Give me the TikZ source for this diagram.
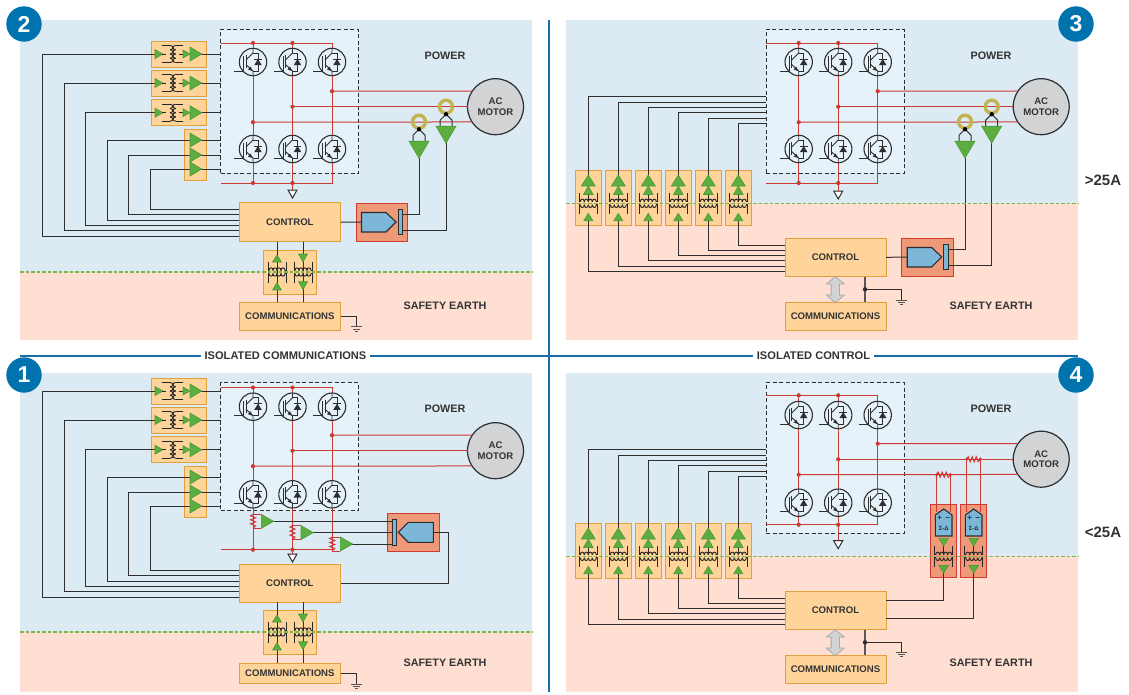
\documentclass[tikz,border=0pt]{standalone}
\usepackage{fontspec}
\setmainfont{Liberation Sans}
\definecolor{bgblue}{HTML}{DBEAF3}
\definecolor{bgpink}{HTML}{FEDFD2}
\definecolor{invfill}{HTML}{E6F2F9}
\definecolor{orfill}{HTML}{FFD49B}
\definecolor{orline}{HTML}{E0A03C}
\definecolor{redw}{HTML}{CB3A33}
\definecolor{redfill}{HTML}{EE9A78}
\definecolor{redln}{HTML}{D13A2F}
\definecolor{adcblue}{HTML}{7DB7D8}
\definecolor{grn}{HTML}{5BAE3F}
\definecolor{grnd}{HTML}{4C9A38}
\definecolor{dashgrn}{HTML}{7AB648}
\definecolor{motg}{HTML}{D2D3D5}
\definecolor{olive}{HTML}{C2B44E}
\definecolor{badge}{HTML}{0072AE}
\definecolor{sep}{HTML}{1A6EA8}
\definecolor{txt}{HTML}{333333}
\definecolor{dk}{HTML}{2E2E2E}
\tikzset{
 lab/.style={font=\bfseries\fontsize{10.8}{11}\selectfont,text=txt},
 boxlab/.style={font=\bfseries\fontsize{9.6}{10.2}\selectfont,text=txt,align=center},
 obox/.style={draw=orline,fill=orfill,line width=1pt},
 rbox/.style={draw=redln,fill=redfill,line width=1pt},
 wire/.style={draw=dk,line width=1pt},
 red/.style={draw=redw,line width=1pt},
 xf/.style={draw=black!85,line width=0.95pt},
 greentri/.style={fill=grn,draw=grnd,line width=0.6pt},
 invbox/.style={draw=dk,fill=invfill,dashed,dash pattern=on 4pt off 2.5pt,line width=1pt},
 motorn/.style={circle,draw=dk,fill=motg,line width=1.2pt,minimum size=56pt,inner sep=0pt,outer sep=0pt,boxlab},
 badgen/.style={circle,fill=badge,minimum size=35.4pt,inner sep=0pt,text=white,font=\bfseries\fontsize{23}{24}\selectfont},
 iso/.style={lab,fill=none,font=\bfseries\fontsize{11.1}{12}\selectfont},
 rdot/.style={fill=redw},
 kdot/.style={fill=dk},
 gdash/.style={dashgrn,dashed,dash pattern=on 3.5pt off 2pt,line width=1.3pt},
 side/.style={font=\bfseries\fontsize{15}{16}\selectfont,text=txt},
 mini/.style={text=dk,inner sep=0pt},
}
% box from corners
\newcommand\bx[7]{\node[#6,outer sep=0pt,inner sep=0pt,minimum width={((#4)-(#2))*1pt},minimum height={((#5)-(#3))*1pt}] (#1) at ({((#2)+(#4))/2},{((#3)+(#5))/2}) {#7};}
% triangles
\newcommand\triU[4]{\path[greentri] ({#1},{#2}) -- ({(#1)-(#4)},{#3}) -- ({(#1)+(#4)},{#3}) -- cycle;}
\newcommand\triR[4]{\path[greentri] ({#3},{#2}) -- ({#1},{(#2)-(#4)}) -- ({#1},{(#2)+(#4)}) -- cycle;}
% coils
\newcommand\coilV[4]{\foreach \i in {0,1,2,3}{\draw[xf] ({#1},{(#2)+\i*(#4)}) .. controls ({(#1)+(#3)*3.6},{(#2)+\i*(#4)}) and ({(#1)+(#3)*3.6},{(#2)+(\i+1)*(#4)}) .. ({#1},{(#2)+(\i+1)*(#4)});}}
\newcommand\coilH[4]{\foreach \i in {0,1,2,3}{\draw[xf] ({(#1)+\i*(#4)},{#2}) .. controls ({(#1)+\i*(#4)},{(#2)+(#3)*3.6}) and ({(#1)+(\i+1)*(#4)},{(#2)+(#3)*3.6}) .. ({(#1)+(\i+1)*(#4)},{#2});}}
% transformer, horizontal split (vertical signal flow)
\newcommand\xfh[2]{%
 \draw[xf] ({(#1)-9},{(#2)-10.5}) -- ({(#1)-9},{(#2)-1.5}) -- ({(#1)-8},{(#2)-1.5});
 \draw[xf] ({(#1)+9},{(#2)-10.5}) -- ({(#1)+9},{(#2)-1.5}) -- ({(#1)+8},{(#2)-1.5});
 \draw[xf] ({(#1)-9},{(#2)+10.5}) -- ({(#1)-9},{(#2)+1.5}) -- ({(#1)-8},{(#2)+1.5});
 \draw[xf] ({(#1)+9},{(#2)+10.5}) -- ({(#1)+9},{(#2)+1.5}) -- ({(#1)+8},{(#2)+1.5});
 \coilH{(#1)-8}{(#2)-1.5}{-1}{4}
 \coilH{(#1)-8}{(#2)+1.5}{1}{4}
}
% IGBT
\newcommand\igbt[2]{%
 \draw[dk,fill=invfill,line width=1.1pt] ({#1},{#2}) circle (13.7pt);
 \draw[dk,line width=0.9pt] ({(#1)-19},{(#2)+9}) -- ({(#1)-9.5},{(#2)+9}) -- ({(#1)-9.5},{(#2)-6});
 \draw[dk,line width=1pt] ({(#1)-7},{(#2)-7}) -- ({(#1)-7},{(#2)+6});
 \draw[dk,line width=0.9pt] ({(#1)-7},{(#2)-2}) -- ({#1},{(#2)-9}) -- ({#1},{(#2)-13.7});
 \draw[dk,line width=0.9pt] ({(#1)-7},{(#2)+2.5}) -- ({#1},{(#2)+9}) -- ({#1},{(#2)+13.7});
 \fill[dk] ({(#1)-0.5},{(#2)+9}) -- ({(#1)-5},{(#2)+7.5}) -- ({(#1)-2.5},{(#2)+4.5}) -- cycle;
 \draw[dk,line width=0.9pt] ({#1},{(#2)-9}) -- ({(#1)+5},{(#2)-9}) -- ({(#1)+5},{(#2)+9}) -- ({#1},{(#2)+9});
 \fill[dk] ({(#1)+5},{(#2)-3}) -- ({(#1)+1.2},{(#2)+3.2}) -- ({(#1)+8.8},{(#2)+3.2}) -- cycle;
 \draw[dk,line width=1pt] ({(#1)+1.2},{(#2)-3}) -- ({(#1)+8.8},{(#2)-3});
}
% inverter: boxtop boxbot railtop row1 row2 ph2 railbot tritop
\newcommand\inverter[8]{%
 \bx{inv\pn}{220.5}{#1}{358.5}{#2}{invbox}{}
 \draw[red] (inv\pn.west |- 0,#3) -- (332,#3) -- (332,#7) -- (inv\pn.west |- 0,#7);
 \draw[red] (253,#3) -- (253,#7);
 \draw[red] (292.5,#3) -- (292.5,{#8});
 \node[motorn] (mot\pn) at (495.5,#6) {AC\\MOTOR};
 \draw[red] (332,{(#6)-15.5}) -- (mot\pn.146.4);
 \draw[red] (292.5,#6) -- (mot\pn.west);
 \draw[red] (253,{(#6)+15.5}) -- (mot\pn.213.6);
 \foreach \q/\r in {253/#3,292.5/#3,253/#7,292.5/#7}{\fill[rdot] (\q,\r) circle (2.1pt);}
 \fill[rdot] (332,{(#6)-15.5}) circle (2.1pt);
 \fill[rdot] (292.5,#6) circle (2.1pt);
 \fill[rdot] (253,{(#6)+15.5}) circle (2.1pt);
 \foreach \q in {253,292.5,332}{\igbt{\q}{#4}\igbt{\q}{#5}}
 \draw[dk,fill=white,line width=1pt] (288,#8) -- (297,#8) -- (292.5,{(#8)+8}) -- cycle;
}
% left-hand gate drivers, panels 1 and 2: gate offset, control wire offset
\newcommand\leftgates[2]{%
 \foreach \n/\y in {a/54,b/83,c/112.7}{%
  \pgfmathsetmacro\yy{\y+#1}
  \bx{g\pn\n}{151}{\yy-13}{206}{\yy+13}{obox}{}
 }
 \bx{g\pn d}{184.5}{129.5+#1}{206}{180+#1}{obox}{}
 \foreach \n/\y/\xx/\cy in {a/54/42.5/236,b/83/64/230.7,c/112.7/85.6/225.3}{%
  \pgfmathsetmacro\yy{\y+#1}\pgfmathsetmacro\cc{\cy+#2}
  \draw[wire] (ctl\pn.west |- 0,\cc) -| (\xx,\yy) -- (155,\yy);
  \draw[wire] (198,\yy) -- (inv\pn.west |- 0,\yy);
  \triR{155}{\yy}{163}{4.5}
  \draw[xf] (162,\yy) -- (166,\yy) (179,\yy) -- (184,\yy);
  \draw[xf] (161.7,\yy-8.5) -- (170,\yy-8.5);
  \draw[xf] (161.7,\yy+8.5) -- (170,\yy+8.5);
  \draw[xf] (183.3,\yy-8.5) -- (175.7,\yy-8.5);
  \draw[xf] (183.3,\yy+8.5) -- (175.7,\yy+8.5);
  \coilV{170}{\yy-8.5}{1}{4.25}
  \coilV{175.7}{\yy-8.5}{-1}{4.25}
  \triR{183}{\yy}{190}{4}
  \triR{190}{\yy}{201.7}{7}
 }
 \foreach \y/\xx/\cy in {140/107/220,155/128.3/214.7,169/150/209.3}{%
  \pgfmathsetmacro\yy{\y+#1}\pgfmathsetmacro\cc{\cy+#2}
  \draw[wire] (ctl\pn.west |- 0,\cc) -| (\xx,\yy) -- (190,\yy);
  \draw[wire] (198,\yy) -- (inv\pn.west |- 0,\yy);
  \triR{190}{\yy}{201.7}{7}
 }
}
% comms isolator: top y
\newcommand\commiso[1]{%
 \bx{iso\pn}{263.5}{#1}{316}{(#1)+44}{obox}{}
 \draw[wire] (277,0 |- ctl\pn.south) -- (277,0 |- comm\pn.north);
 \draw[wire] (303,0 |- ctl\pn.south) -- (303,0 |- comm\pn.north);
 \xfh{277}{(#1)+22}
 \xfh{303}{(#1)+22}
 \triU{277}{(#1)+5}{(#1)+12}{4.5}
 \triU{277}{(#1)+32.7}{(#1)+40}{4.5}
 \triU{303}{(#1)+12}{(#1)+4}{4.5}
 \triU{303}{(#1)+39.5}{(#1)+31.7}{4.5}
}
\newcommand\gndsym[2]{%
 \draw[dk!80,line width=1pt] ({(#1)-5.5},{#2}) -- ({(#1)+5.5},{#2}) ({(#1)-3.5},{(#2)+2.3}) -- ({(#1)+3.5},{(#2)+2.3}) ({(#1)-1.5},{(#2)+4.6}) -- ({(#1)+1.5},{(#2)+4.6});
}
% six isolators, panels 3 and 4
\newcommand\sixgates[1]{%
 \foreach \i in {0,...,5}{%
  \pgfmathsetmacro\xx{588.3+30*\i}
  \bx{s\pn\i}{\xx-13.3}{170+#1}{\xx+13.3}{225+#1}{obox}{}
 }
 \foreach \i in {0,...,5}{%
  \pgfmathsetmacro\xx{588.3+30*\i}
  \pgfmathsetmacro\yt{96.7+5.4*\i+#1}
  \pgfmathsetmacro\yb{271.4-5.28*\i+#1}
  \draw[wire] (inv\pn.west |- 0,\yt) -| (\xx,175+#1);
  \draw[wire] (ctl\pn.west |- 0,\yb) -| (\xx,220+#1);
  \xfh{\xx}{203.3+#1}
  \draw[xf] (\xx,193+#1) -- (\xx,200+#1);
  \triU{\xx}{175+#1}{186+#1}{7}
  \triU{\xx}{186+#1}{194.5+#1}{4.8}
  \triU{\xx}{213.3+#1}{220.7+#1}{4.5}
 }
}
% ADC block with bar on the right
\newcommand\adcbox[2]{%
 \bx{adc\pn}{#1}{#2}{(#1)+51.7}{(#2)+38.7}{rbox}{}
 \draw[dk,fill=adcblue,line width=1.1pt] ({(#1)+5.5},{(#2)+9.5}) -- ({(#1)+30},{(#2)+9.5}) -- ({(#1)+40},{(#2)+19}) -- ({(#1)+30},{(#2)+29}) -- ({(#1)+5.5},{(#2)+29}) -- cycle;
 \draw[dk,fill=adcblue,line width=1pt] ({(#1)+42},{(#2)+6.5}) rectangle ({(#1)+46.5},{(#2)+31.5});
 \draw[wire] (ctl\pn.east) -- ({(#1)+5.5},{(#2)+19});
}
% current sense: x, toroid y, wire y, start x
\newcommand\sense[4]{%
 \draw[draw=olive,line width=3.4pt] ({#1},{#2}) circle (6.5pt);
 \draw[dk,line width=1pt] ({(#1)-6},{(#2)+20}) -- ({(#1)-6},{(#2)+13.5}) -- ({#1},{(#2)+7.5}) -- ({(#1)+6},{(#2)+13.5}) -- ({(#1)+6},{(#2)+20});
 \fill[black] ({#1},{(#2)+7.5}) circle (2.2pt);
 \draw[wire] (#4,#3) -| ({#1},{(#2)+36});
 \triU{#1}{(#2)+36.5}{(#2)+19.5}{10}
}
\newcommand\resV[3]{\draw[red,line width=1pt] ({#1},{#2}) -- ({(#1)-2.5},{(#2)+1.5}) -- ({(#1)+2.5},{(#2)+3.5}) -- ({(#1)-2.5},{(#2)+5.5}) -- ({(#1)+2.5},{(#2)+7.5}) -- ({(#1)-2.5},{(#2)+9.5}) -- ({(#1)+2.5},{(#2)+11.5}) -- ({#1},{#3});}
\newcommand\resH[3]{\draw[red,line width=1pt] ({#2},{#1}) -- ({(#2)+1.5},{(#1)-2.5}) -- ({(#2)+3.5},{(#1)+2.5}) -- ({(#2)+5.5},{(#1)-2.5}) -- ({(#2)+7.5},{(#1)+2.5}) -- ({(#2)+9.5},{(#1)-2.5}) -- ({(#2)+11.5},{(#1)+2.5}) -- ({#3},{#1});}
% shunt + amp panel 1: x, ytop, xbase
\newcommand\shunt[3]{%
 \resV{#1}{#2}{(#2)+14}
 \draw[red] ({#1},{#2}) -- ({#3},{#2}) ({#1},{(#2)+14}) -- ({#3},{(#2)+14});
 \draw[wire] ({(#3)+8},{(#2)+7}) -- (adcbar.west |- 0,{(#2)+7});
 \triR{#3}{(#2)+7}{(#3)+12.3}{7}
}
\begin{document}
\begin{tikzpicture}[x=1pt,y=-1pt]
\useasboundingbox (0,0) rectangle (1129,694);
% panel backgrounds
\fill[bgblue] (20,20) rectangle (532,272);
\fill[bgpink] (20,272) rectangle (532,340);
\fill[bgblue] (566,20) rectangle (1078,203.3);
\fill[bgpink] (566,203.3) rectangle (1078,340);
\fill[bgblue] (20,373) rectangle (532,632);
\fill[bgpink] (20,632) rectangle (532,692);
\fill[bgblue] (566,373) rectangle (1078,556.3);
\fill[bgpink] (566,556.3) rectangle (1078,692);
% separators
\node[iso] (sepA) at (285.5,356) {ISOLATED COMMUNICATIONS};
\node[iso] (sepB) at (813.5,356) {ISOLATED CONTROL};
\coordinate (sepL) at (20,356);
\coordinate (sepR) at (1078,356);
\coordinate (sepT) at (549,20);
\coordinate (sepD) at (549,692);
\draw[sep,line width=1.1pt] (sepT) -- (sepD);
\draw[sep,line width=1.1pt] (sepL) -- (sepA.west) (sepA.east) -- (sepB.west) (sepB.east) -- (sepR);
% ---------- PANEL 2
\def\pn{2}
\bx{ctl2}{239}{202.7}{340.7}{241.7}{obox,boxlab}{CONTROL}
\bx{comm2}{239}{302.3}{340.7}{330.7}{obox,boxlab}{COMMUNICATIONS}
\inverter{29.3}{173}{43}{62}{149}{106.7}{183}{190}
\leftgates{0}{0}
\commiso{250}
\adcbox{356}{203}
\sense{419}{121.7}{214}{402.5}
\sense{446}{106.7}{230}{402.5}
\coordinate (g2) at (356.5,326.7);
\draw[wire] (comm2.east) -| (g2);
\gndsym{356.5}{326.7}
\draw[gdash] (20,272) -- (532,272);
\node[lab] (pw2) at (445,55.5) {POWER};
\node[lab] (se2) at (445,305.5) {SAFETY EARTH};
% ---------- PANEL 1
\def\pn{1}
\bx{ctl1}{239}{564}{340.7}{602.3}{obox,boxlab}{CONTROL}
\bx{comm1}{239}{663}{340.7}{683}{obox,boxlab}{COMMUNICATIONS}
\inverter{382.7}{510.7}{387.5}{406.7}{494.3}{450.7}{549.7}{554}
\leftgates{337}{361}
\commiso{610}
\bx{adc1}{387.3}{513.3}{439}{551.7}{rbox}{}
\draw[dk,fill=adcblue,line width=1.1pt] (433.3,522.3) -- (408.3,522.3) -- (398.3,532.3) -- (408.3,542.3) -- (433.3,542.3) -- cycle;
\bx{adcbar}{392.3}{519.3}{396.7}{545.3}{draw=dk,fill=adcblue,line width=1pt}{}
\shunt{253}{514.3}{261.3}
\shunt{292.5}{525.6}{301}
\shunt{332.2}{537}{340.3}
\coordinate (a1) at (448,532.3);
\coordinate (a2) at (433.3,532.3);
\draw[wire] (a2) -- (a1) |- (ctl1.east);
\coordinate (g1) at (356.5,684);
\draw[wire] (comm1.east) -| (g1);
\gndsym{356.5}{684}
\draw[gdash] (20,632) -- (532,632);
\node[lab] (pw1) at (445,408.5) {POWER};
\node[lab] (se1) at (445,662.5) {SAFETY EARTH};
% ---------- PANEL 3
\def\pn{3}
\bx{ctl3}{785}{238}{886}{276.7}{obox,boxlab}{CONTROL}
\bx{comm3}{785}{302.3}{886}{330.7}{obox,boxlab}{COMMUNICATIONS}
\begin{scope}[shift={(545.7,0)}]
\inverter{29.3}{173}{43}{62}{149}{106.7}{183}{191}
\end{scope}
\sixgates{0}
\adcbox{901.7}{238}
\sense{965}{121.7}{249}{948}
\sense{991.7}{106.7}{265}{948}
\coordinate (n3) at (865,289.3);
\coordinate (g3) at (901.7,300);
\draw[wire,line width=1.3pt,dk!80] (865,0 |- ctl3.south) -- (865,0 |- comm3.north);
\draw[wire] (n3) -| (g3);
\fill[kdot] (n3) circle (2.2pt);
\gndsym{901.7}{300}
\path[fill=motg,draw=motg!80!black,line width=0.8pt] (835.3,276.7) -- (844.3,284) -- (839.5,284) -- (839.5,295) -- (844.3,295) -- (835.3,302.6) -- (826.3,295) -- (831.1,295) -- (831.1,284) -- (826.3,284) -- cycle;
\draw[gdash] (566,203.3) -- (1078,203.3);
\node[lab] (pw3) at (991,55.5) {POWER};
\node[lab] (se3) at (991,305.5) {SAFETY EARTH};
% ---------- PANEL 4
\def\pn{4}
\bx{ctl4}{785}{591}{886}{629.7}{obox,boxlab}{CONTROL}
\bx{comm4}{785}{655.3}{886}{683.7}{obox,boxlab}{COMMUNICATIONS}
\begin{scope}[shift={(545.7,0)}]
\inverter{382.7}{533.3}{395.3}{415}{502.7}{459.2}{524.7}{540.7}
\end{scope}
\sixgates{353}
% sigma-delta channels
\bx{sdA}{930.7}{504.3}{956.7}{577}{rbox}{}
\bx{sdB}{960.7}{504.3}{986.7}{577}{rbox}{}
\foreach \cx/\rl/\rr/\py/\wy/\tg in {943.7/936.7/950.3/474.7/600.7/a,973.7/966.7/980.3/459.2/618.7/b}{%
 \resH{\py}{\rl}{\rr}
 \fill[rdot] (\rl,\py) circle (1.8pt);
 \fill[rdot] (\rr,\py) circle (1.8pt);
 \draw[red] (\rl,\py) -- (\rl,512) (\rr,\py) -- (\rr,512);
 \draw[dk,fill=adcblue,line width=1.1pt] (\cx-8.3,536) -- (\cx-8.3,515) -- (\cx,509) -- (\cx+8.3,515) -- (\cx+8.3,536) -- cycle;
 \node[mini,font=\bfseries\fontsize{8}{8}\selectfont] (pl\tg) at (\cx-4,518.5) {+};
 \node[mini,font=\bfseries\fontsize{8}{8}\selectfont] (mi\tg) at (\cx+4,518.5) {−};
 \node[mini,font=\bfseries\fontsize{6}{6}\selectfont] (sd\tg) at (\cx,528) {Σ-Δ};
 \xfh{\cx}{556.3}
 \draw[xf] (\cx,544) -- (\cx,553);
 \draw[wire] (\cx,573) |- (ctl4.east |- 0,\wy);
 \triU{\cx}{546}{538.3}{4.8}
 \triU{\cx}{573}{565.5}{4.8}
}
\coordinate (n4) at (865,642.3);
\coordinate (g4) at (901.7,652.3);
\draw[wire,line width=1.3pt,dk!80] (865,0 |- ctl4.south) -- (865,0 |- comm4.north);
\draw[wire] (n4) -| (g4);
\fill[kdot] (n4) circle (2.2pt);
\gndsym{901.7}{652.3}
\path[fill=motg,draw=motg!80!black,line width=0.8pt] (835.3,629.7) -- (844.3,637) -- (839.5,637) -- (839.5,648) -- (844.3,648) -- (835.3,655.6) -- (826.3,648) -- (831.1,648) -- (831.1,637) -- (826.3,637) -- cycle;
\draw[gdash] (566,556.3) -- (1078,556.3);
\node[lab] (pw4) at (991,408.5) {POWER};
\node[lab] (se4) at (991,662.5) {SAFETY EARTH};
% badges and side labels
\node[badgen] (b2) at (24,24) {2};
\node[badgen] (b1) at (24,375) {1};
\node[badgen] (b3) at (1076,24) {3};
\node[badgen] (b4) at (1076,375) {4};
\node[side] (gt) at (1103,180) {>25A};
\node[side] (lt) at (1103,532) {<25A};
\end{tikzpicture}
\end{document}
